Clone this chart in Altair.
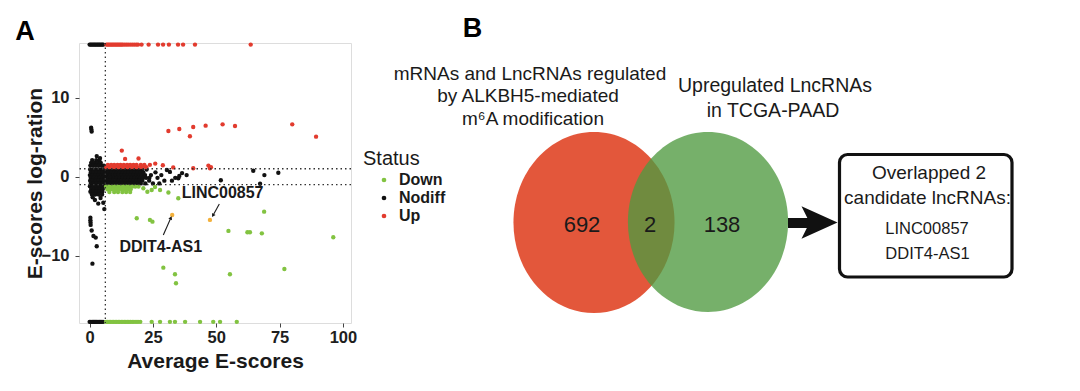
import altair as alt
import pandas as pd

FONT = "Liberation Sans"
INK = "#1a1a1a"

# ======================= Panel A data (E-score scatter) =======================
status_domain = ["Down", "Nodiff", "Up"]
status_colors = ["#82c341", "#111111", "#e23b2e"]

x_ticks = [0, 25, 50, 75, 100]
y_ticks = [-10, 0, 10]
x_cut = [6.2]
y_cuts = [1.0, -1.0]

# Nodiff points, read row by row from the dense cluster, plus scattered ones
nodiff_row_y = [16.7, -18.35, 2.1, 1.75, 1.4, 0.9, 0.55, 0.2, -0.15, -0.5, -0.85, -1.2, -1.55, -1.9, -2.25]
nodiff_row_x = [
    [0.0, 0.45, 0.9, 1.35, 1.8, 2.25, 2.7, 3.15, 3.6, 4.05, 4.5, 4.95, 5.4],
    [0.0, 0.5, 1.0, 1.45, 1.9, 2.35, 2.8, 3.3, 3.8, 4.3, 4.8, 5.3],
    [1.0, 2.6, 3.9],
    [0.6, 1.9, 3.2, 4.4],
    [0.3, 1.4, 2.5, 3.6, 4.7, 5.6],
    [0.2, 1.3, 2.4, 3.5, 4.7, 5.8, 7.0, 8.1, 9.3, 10.4, 11.6, 12.7, 13.9, 15.0, 16.2, 17.3, 18.5, 19.6, 20.7, 22.5],
    [0.5, 1.6, 2.8, 3.9, 5.1, 6.2, 7.4, 8.5, 9.7, 10.8, 12.0, 13.1, 14.3, 15.4, 16.6, 17.7, 18.9, 20.0, 21.2, 26.0],
    [0.1, 1.2, 2.3, 3.4, 4.6, 5.7, 6.9, 8.0, 9.2, 10.3, 11.5, 12.6, 13.8, 14.9, 16.1, 17.2, 18.4, 19.5, 20.7, 21.9, 24.2, 28.3],
    [0.4, 1.5, 2.7, 3.8, 5.0, 6.1, 7.3, 8.4, 9.6, 10.7, 11.9, 13.0, 14.2, 15.3, 16.5, 17.6, 18.8, 19.9, 21.1, 22.3, 23.6, 26.8, 33.8],
    [0.2, 1.3, 2.4, 3.5, 4.6, 5.8, 6.9, 8.1, 9.2, 10.4, 11.5, 12.7, 13.8, 15.0, 16.1, 17.3, 18.4, 19.6, 20.8, 23.5, 29.5, 32.5],
    [0.5, 1.6, 2.8, 3.9, 5.0, 6.2, 7.3, 8.5, 9.6, 10.8, 11.9, 13.1, 14.2, 15.4, 16.5, 17.7, 18.8, 20.2, 22.0, 25.0, 27.5],
    [0.1, 1.2, 2.3, 3.4, 4.5, 5.6],
    [0.6, 1.7, 2.9, 4.1, 5.2],
    [0.3, 1.4, 2.6, 3.8, 5.0],
    [0.9, 2.2, 3.6, 4.9],
]
nodiff_extra_x = [0.6, 0.7, 0.8, 2.8, 4.1, 2.1, 3.4, 5.4, 5.8, 1.2, 4.3, 0.3, 0.3, 0.35, 0.4, 0.8, 1.5,
                  2.4, 2.8, 1.1, 30.5, 31.7, 35.4, 35.0, 36.5, 38.3, 51.8, 64.6, 69.0, 74.5, 67.3]
nodiff_extra_y = [6.2, 5.95, 5.7, 2.6, 2.35, -2.95, -3.4, -3.3, -4.1, -2.6, -2.7, -5.2, -5.5, -5.8, -6.1, -6.8, -7.5,
                  -7.7, -8.8, -11.0, 0.85, 0.6, 0.1, -0.2, 0.45, 0.2, -0.45, 0.75, 0.2, 0.5, -0.9]

down_row_y = [-18.35, -1.25, -1.6, -1.95]
down_row_x = [
    [6.5, 7.1, 7.7, 8.3, 8.9, 9.5, 10.1, 10.7, 11.3, 11.9, 12.5, 13.1, 13.7, 14.3, 14.9, 15.5, 16.1, 16.8,
     17.5, 18.3, 19.1, 20.0, 24.5, 27.8, 31.7, 33.7, 37.7, 43.6, 48.8, 51.5, 58.1],
    [6.5, 7.6, 8.8, 9.9, 11.0, 12.2, 13.3, 14.5, 15.6, 16.8, 18.0, 19.3],
    [7.0, 8.2, 9.3, 10.5, 11.6, 12.8, 13.9, 15.1, 16.2],
    [7.8, 9.7, 11.2, 12.9, 14.4, 16.0],
]
down_extra_x = [21.2, 22.8, 24.5, 25.8, 27.8, 31.1, 35.0, 18.6, 23.8, 24.8, 54.8, 62.3, 63.3, 68.0, 68.9,
                96.2, 29.1, 33.7, 34.1, 55.4, 76.9]
down_extra_y = [-1.47, -1.9, -1.68, -1.3, -1.68, -2.0, -2.73, -5.26, -5.47, -5.69, -6.86, -7.03, -7.03, -7.16,
                -4.42, -7.66, -11.5, -12.34, -13.48, -12.34, -11.67]

up_row_y = [16.7, 1.2, 1.5]
up_row_x = [
    [6.6, 7.1, 7.6, 8.1, 8.6, 9.1, 9.6, 10.1, 10.6, 11.1, 11.6, 12.1, 12.6, 13.1, 13.8, 14.5, 15.2, 16.0,
     16.8, 17.6, 18.4, 19.1, 20.5, 23.3, 27.0, 29.0, 31.3, 34.9, 36.9, 41.6, 63.6],
    [6.6, 7.8, 9.0, 10.2, 11.4, 12.6, 13.8, 15.0, 16.2, 17.4, 18.6, 19.8, 21.0, 22.4],
    [7.2, 8.5, 9.7, 11.0, 12.2, 13.5, 14.8, 16.0, 17.3, 18.5, 20.2, 21.6, 23.8],
]
up_extra_x = [31.1, 35.4, 39.6, 40.9, 45.8, 52.5, 57.4, 80.0, 89.4, 12.7, 14.0, 19.3, 25.9, 28.9, 33.0,
              40.9, 46.9, 47.5, 47.9]
up_extra_y = [5.78, 6.03, 5.11, 6.28, 6.45, 6.62, 6.41, 6.62, 5.06, 3.3, 2.25, 2.3, 1.65, 1.45, 1.17,
              1.06, 1.4, 1.06, 1.2]

highlight_genes = ["DDIT4-AS1", "LINC00857"]
highlight_x = [32.6, 47.5]
highlight_y = [-4.84, -5.47]

# ======================= Panel B data (Venn) =======================
venn_counts = [692, 2, 138]
set1_title = ["mRNAs and LncRNAs regulated", "by ALKBH5-mediated", "m\u2076A modification"]
set2_title = ["Upregulated LncRNAs", "in TCGA-PAAD"]
candidates = ["LINC00857", "DDIT4-AS1"]


def expand(row_y, row_x, ex_x, ex_y, status):
    recs = []
    for yv, xs_ in zip(row_y, row_x):
        recs += [(xv, yv, status) for xv in xs_]
    recs += [(xv, yv, status) for xv, yv in zip(ex_x, ex_y)]
    return recs


pts = pd.DataFrame(
    expand(nodiff_row_y, nodiff_row_x, nodiff_extra_x, nodiff_extra_y, "Nodiff")
    + expand(down_row_y, down_row_x, down_extra_x, down_extra_y, "Down")
    + expand(up_row_y, up_row_x, up_extra_x, up_extra_y, "Up"),
    columns=["x", "y", "Status"],
)

# ---------------- Panel A layers ----------------
xsc = alt.Scale(domain=[-4.2, 103.2], nice=False, zero=False)
ysc = alt.Scale(domain=[-18.5, 16.9], nice=False, zero=False)

x_axis = alt.Axis(values=x_ticks, title="Average E-scores", grid=False, domain=False, tickSize=4,
                  tickColor="#444", labelFont=FONT, labelFontSize=16.5, labelFontWeight="bold",
                  labelColor="#1e1e1e", labelPadding=2, titleFont=FONT, titleFontSize=21,
                  titleFontWeight="bold", titleColor=INK, titlePadding=5)
y_axis = alt.Axis(values=y_ticks, title="E-scores log-ration", grid=False, domain=False, tickSize=4,
                  tickColor="#444", labelFont=FONT, labelFontSize=16.5, labelFontWeight="bold",
                  labelColor="#1e1e1e", labelPadding=6, titleFont=FONT, titleFontSize=21,
                  titleFontWeight="bold", titleColor=INK, titlePadding=-4)

points = alt.Chart(pts).mark_circle(size=19, opacity=1).encode(
    x=alt.X("x:Q", scale=xsc, axis=x_axis),
    y=alt.Y("y:Q", scale=ysc, axis=y_axis),
    color=alt.Color(
        "Status:N",
        scale=alt.Scale(domain=status_domain, range=status_colors),
        legend=alt.Legend(
            title="Status", orient="none", legendX=284, legendY=106,
            titleFont=FONT, titleFontSize=20, titleFontWeight="normal", titleColor=INK,
            labelFont=FONT, labelFontSize=16, labelFontWeight="bold", labelColor=INK,
            symbolType="circle", symbolSize=22, symbolOffset=13, labelOffset=7,
            rowPadding=2, titlePadding=3,
        ),
    ),
)

dash = dict(color="#333", strokeDash=[1.5, 3], strokeWidth=1.3)
vline = alt.Chart(pd.DataFrame({"x": x_cut})).mark_rule(**dash).encode(
    x=alt.X("x:Q", scale=xsc, title="Average E-scores"))
hline = alt.Chart(pd.DataFrame({"y": y_cuts})).mark_rule(**dash).encode(
    y=alt.Y("y:Q", scale=ysc, title="E-scores log-ration"))

hl_df = pd.DataFrame({"x": highlight_x, "y": highlight_y, "gene": highlight_genes})
# annotation layout (label centre, arrow start, arrow tip, head angle)
hl_df["tx"] = [28.1, 52.5]
hl_df["ty"] = [-8.85, -2.1]
hl_df["ax"] = [29.1, 51.2]
hl_df["ay"] = [-7.37, -3.45]
hl_df["bx"] = [32.0, 48.8]
hl_df["by"] = [-5.26, -4.84]
hl_df["ang"] = [24, 209]

hl_pts = alt.Chart(hl_df).mark_circle(size=19, opacity=1, color="#f3b13c").encode(
    x=alt.X("x:Q", scale=xsc, title="Average E-scores"),
    y=alt.Y("y:Q", scale=ysc, title="E-scores log-ration"))
ann_line = alt.Chart(hl_df).mark_rule(color=INK, strokeWidth=1.1).encode(
    x=alt.X("ax:Q", scale=xsc, title="Average E-scores"), x2="bx:Q",
    y=alt.Y("ay:Q", scale=ysc, title="E-scores log-ration"), y2="by:Q")
ann_head = alt.Chart(hl_df).mark_point(shape="triangle", filled=True, size=16, color=INK, opacity=1).encode(
    x=alt.X("bx:Q", scale=xsc, title="Average E-scores"),
    y=alt.Y("by:Q", scale=ysc, title="E-scores log-ration"),
    angle=alt.Angle("ang:Q", scale=None))
ann_text = alt.Chart(hl_df).mark_text(font=FONT, fontSize=16, fontWeight="bold", color=INK,
                                      baseline="middle").encode(
    x=alt.X("tx:Q", scale=xsc, title="Average E-scores"),
    y=alt.Y("ty:Q", scale=ysc, title="E-scores log-ration"),
    text="gene:N")

panel_a = alt.layer(points, vline, hline, hl_pts, ann_line, ann_head, ann_text)

# ---------------- Panel B layers (page-pixel coordinate frame) ----------------
bxs = alt.Scale(domain=[79, 351], nice=False, zero=False)
bys = alt.Scale(domain=[43, 323], nice=False, zero=False, reverse=True)
BX = lambda f: alt.X(f, scale=bxs, axis=None)
BY = lambda f: alt.Y(f, scale=bys, axis=None)

ELLIPSE = "M -0.89,0 A 0.89,1 0 1,1 0.89,0 A 0.89,1 0 1,1 -0.89,0 Z"
red_set = alt.Chart(pd.DataFrame({"x": [594], "y": [222.5]})).mark_point(
    shape=ELLIPSE, size=181 ** 2, filled=True, color="#e3573b", opacity=1, strokeWidth=0
).encode(x=BX("x:Q"), y=BY("y:Q"))
green_set = alt.Chart(pd.DataFrame({"x": [708], "y": [222]})).mark_point(
    shape=ELLIPSE, size=180 ** 2, filled=True, color="#4f9a40", opacity=0.78, strokeWidth=0
).encode(x=BX("x:Q"), y=BY("y:Q"))

shaft = alt.Chart(pd.DataFrame({"x": [788], "x2": [812], "y": [223]})).mark_rule(
    color="#111", strokeWidth=10).encode(x=BX("x:Q"), x2="x2:Q", y=BY("y:Q"))
ARROW = "M -1,-0.9 L 1,0 L -1,0.9 L -0.55,0 Z"
head = alt.Chart(pd.DataFrame({"x": [819.5], "y": [222.5]})).mark_point(
    shape=ARROW, size=36 ** 2, filled=True, color="#111", opacity=1, strokeWidth=0
).encode(x=BX("x:Q"), y=BY("y:Q"))

box = alt.Chart(pd.DataFrame({"x": [839.5], "x2": [1012], "y": [154.5], "y2": [277]})).mark_rect(
    fill="white", stroke="#111", strokeWidth=3.2, cornerRadius=8
).encode(x=BX("x:Q"), x2="x2:Q", y=BY("y:Q"), y2="y2:Q")

norm_text = pd.DataFrame({
    "t": set1_title + set2_title + [str(c) for c in venn_counts]
         + [f"Overlapped {venn_counts[1]}", "candidate lncRNAs:"] + candidates,
    "x": [530, 528, 533, 775, 773, 582, 650, 722, 929, 927.5, 927, 927.5],
    "y": [80, 102, 125, 92, 116.5, 231.5, 231.5, 231.5, 179, 204, 234, 259],
    "fs": [19, 19, 19, 19.5, 19.5, 22, 22, 22, 19, 19, 16.5, 16.5],
})
texts_b = alt.Chart(norm_text).mark_text(font=FONT, color=INK, baseline="alphabetic", align="center").encode(
    x=BX("x:Q"), y=BY("y:Q"), text="t:N", size=alt.Size("fs:Q", scale=None, legend=None))

letters = alt.Chart(pd.DataFrame({"t": ["A", "B"], "x": [25, 472.5], "y": [39.5, 37]})).mark_text(
    font=FONT, fontSize=27, fontWeight="bold", color="#000", baseline="alphabetic", align="center"
).encode(x=BX("x:Q"), y=BY("y:Q"), text="t:N")

panel_b = alt.layer(red_set, green_set, shaft, head, box, texts_b, letters)

chart = (
    alt.layer(panel_a, panel_b)
    .resolve_scale(x="independent", y="independent")
    .properties(
        width=272, height=280,
        autosize=alt.AutoSizeParams(type="none"),
        padding={"left": 71, "top": 35, "right": 720, "bottom": 60},
    )
    .configure_view(stroke="#a9a9a9", strokeWidth=1.2)
    .configure(font=FONT)
)

chart.save("out.html", embed_options={"renderer": "svg", "actions": False})
